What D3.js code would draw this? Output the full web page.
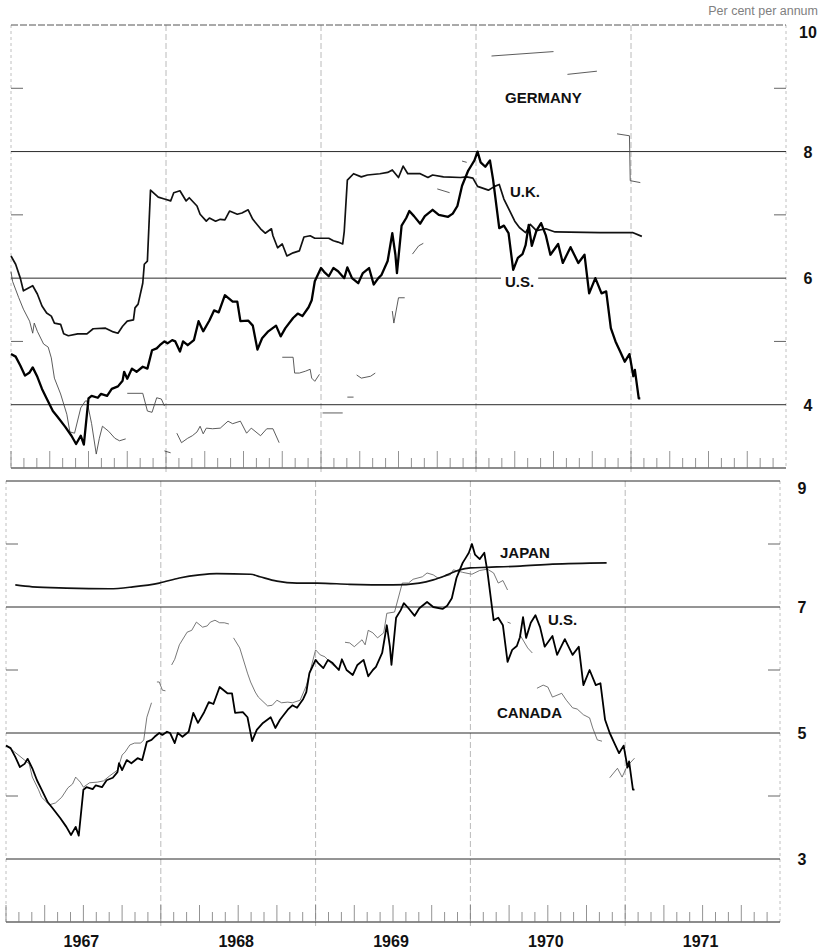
<!DOCTYPE html>
<html>
<head>
<meta charset="utf-8">
<script src="https://cdn.jsdelivr.net/npm/d3@7"></script>
<style>
  body { margin: 0; background: #fff; }
  svg { display: block; }
  text { font-family: "Liberation Sans", Arial, Helvetica, sans-serif; }
</style>
</head>
<body>
<svg id="chart" width="836" height="950"></svg>
<script>
// ---------------------------------------------------------------
// data: [decimal year, per cent per annum]; null = gap in the line
const years = [1967, 1968, 1969, 1970, 1971];

const usRate = [
  [1967.00, 4.80], [1967.03, 4.76], [1967.06, 4.62], [1967.09, 4.46], [1967.12, 4.51],
  [1967.14, 4.59], [1967.17, 4.44], [1967.20, 4.25], [1967.23, 4.10], [1967.27, 3.90],
  [1967.30, 3.81], [1967.35, 3.65], [1967.39, 3.51], [1967.42, 3.38], [1967.45, 3.51],
  [1967.47, 3.37], [1967.50, 4.10], [1967.52, 4.14], [1967.56, 4.11], [1967.58, 4.17],
  [1967.62, 4.14], [1967.65, 4.25], [1967.69, 4.29], [1967.72, 4.38], [1967.73, 4.52],
  [1967.75, 4.41], [1967.78, 4.57], [1967.81, 4.52], [1967.85, 4.60], [1967.88, 4.57],
  [1967.91, 4.86], [1967.94, 4.89], [1967.96, 4.94], [1967.99, 5.00], [1968.01, 4.97],
  [1968.04, 5.02], [1968.06, 5.00], [1968.09, 4.84], [1968.11, 5.00], [1968.14, 4.94],
  [1968.18, 5.02], [1968.21, 5.32], [1968.24, 5.16], [1968.28, 5.33], [1968.31, 5.49],
  [1968.34, 5.46], [1968.38, 5.73], [1968.43, 5.63], [1968.46, 5.63], [1968.48, 5.32],
  [1968.53, 5.33], [1968.56, 5.25], [1968.59, 4.87], [1968.62, 5.05], [1968.66, 5.16],
  [1968.71, 5.25], [1968.74, 5.08], [1968.77, 5.21], [1968.82, 5.37], [1968.85, 5.44],
  [1968.88, 5.40], [1968.92, 5.54], [1968.94, 5.65], [1968.96, 5.95], [1969.00, 6.16],
  [1969.02, 6.10], [1969.05, 6.03], [1969.08, 6.16], [1969.11, 6.11], [1969.15, 6.00],
  [1969.17, 6.17], [1969.20, 6.00], [1969.24, 5.92], [1969.27, 6.08], [1969.31, 6.16],
  [1969.34, 5.90], [1969.37, 6.00], [1969.39, 6.05], [1969.43, 6.27], [1969.46, 6.71],
  [1969.48, 6.37], [1969.49, 6.08], [1969.52, 6.83], [1969.55, 6.95], [1969.57, 7.06],
  [1969.60, 6.98], [1969.64, 6.86], [1969.67, 6.98], [1969.72, 7.08], [1969.76, 7.00],
  [1969.82, 6.97], [1969.85, 7.02], [1969.88, 7.14], [1969.91, 7.46], [1969.95, 7.70],
  [1969.97, 7.78], [1969.99, 7.86], [1970.01, 8.00], [1970.03, 7.83], [1970.06, 7.76],
  [1970.09, 7.86], [1970.11, 7.56], [1970.15, 6.79], [1970.18, 6.83], [1970.21, 6.71],
  [1970.24, 6.13], [1970.27, 6.32], [1970.30, 6.38], [1970.32, 6.52], [1970.34, 6.84],
  [1970.36, 6.51], [1970.39, 6.75], [1970.42, 6.87], [1970.45, 6.68], [1970.48, 6.37],
  [1970.53, 6.54], [1970.56, 6.24], [1970.61, 6.49], [1970.66, 6.24], [1970.70, 6.37],
  [1970.73, 5.76], [1970.77, 6.00], [1970.81, 5.76], [1970.84, 5.79], [1970.87, 5.21],
  [1970.90, 5.00], [1970.93, 4.84], [1970.96, 4.68], [1970.99, 4.80], [1971.015, 4.45],
  [1971.025, 4.55], [1971.05, 4.10], [1971.06, 4.10]
];

const ukRate = [
  [1967.00, 6.35], [1967.03, 6.22], [1967.06, 6.00], [1967.08, 5.80], [1967.11, 5.84],
  [1967.14, 5.88], [1967.17, 5.75], [1967.20, 5.56], [1967.23, 5.45], [1967.26, 5.40],
  [1967.28, 5.29], [1967.32, 5.27], [1967.34, 5.12], [1967.37, 5.09], [1967.43, 5.12],
  [1967.49, 5.12], [1967.53, 5.20], [1967.61, 5.21], [1967.66, 5.15], [1967.69, 5.13],
  [1967.72, 5.24], [1967.75, 5.32], [1967.79, 5.34], [1967.80, 5.53], [1967.82, 5.59],
  [1967.85, 5.92], [1967.86, 6.22], [1967.88, 6.27], [1967.90, 7.39], [1967.95, 7.28],
  [1967.99, 7.25], [1968.03, 7.22], [1968.05, 7.35], [1968.09, 7.38], [1968.13, 7.22],
  [1968.15, 7.27], [1968.20, 7.14], [1968.22, 7.01], [1968.26, 6.90], [1968.28, 6.95],
  [1968.32, 6.90], [1968.35, 6.93], [1968.38, 6.92], [1968.41, 7.06], [1968.46, 7.01],
  [1968.49, 7.03], [1968.53, 7.08], [1968.56, 6.93], [1968.61, 6.78], [1968.64, 6.71],
  [1968.68, 6.78], [1968.69, 6.67], [1968.72, 6.48], [1968.75, 6.54], [1968.78, 6.35],
  [1968.82, 6.40], [1968.86, 6.43], [1968.89, 6.65], [1968.93, 6.67], [1968.96, 6.63],
  [1969.01, 6.63], [1969.05, 6.63], [1969.08, 6.59], [1969.11, 6.57], [1969.14, 6.54],
  [1969.15, 6.74], [1969.17, 7.55], [1969.21, 7.65], [1969.26, 7.60], [1969.30, 7.63],
  [1969.38, 7.65], [1969.43, 7.67], [1969.46, 7.71], [1969.50, 7.59], [1969.53, 7.77],
  [1969.56, 7.65], [1969.64, 7.65], [1969.69, 7.59], [1969.72, 7.63], [1969.79, 7.60],
  [1969.90, 7.59], [1969.94, 7.60], [1969.98, 7.58], [1970.01, 7.45], [1970.08, 7.39],
  [1970.12, 7.45], [1970.15, 7.48], [1970.18, 7.25], [1970.22, 7.05], [1970.25, 6.90],
  [1970.28, 6.80], [1970.32, 6.72], [1970.35, 6.85], [1970.39, 6.75], [1970.45, 6.78],
  [1970.51, 6.73], [1970.80, 6.72], [1971.01, 6.72], [1971.07, 6.66]
];

const germanyRate = [
  [1967.00, 6.10], [1967.01, 5.95], [1967.05, 5.69], [1967.08, 5.51], [1967.12, 5.32],
  [1967.14, 5.13], [1967.15, 5.29], [1967.17, 5.16], [1967.21, 4.96], [1967.24, 4.91],
  [1967.26, 4.74], [1967.28, 4.42], [1967.32, 4.17], [1967.36, 3.85], [1967.38, 3.57],
  [1967.41, 3.55], [1967.45, 3.95], [1967.48, 4.06], [1967.49, 4.06], [1967.52, 3.70],
  [1967.55, 3.22], [1967.57, 3.47], [1967.59, 3.66], [1967.63, 3.58], [1967.67, 3.47],
  [1967.70, 3.43], [1967.74, 3.46], null,
  [1967.75, 4.18], [1967.85, 4.18], [1967.88, 3.90], [1967.91, 3.88], [1967.94, 4.11],
  [1967.97, 4.09], [1967.99, 3.98], null,
  [1967.99, 3.27], [1968.03, 3.24], null,
  [1968.07, 3.55], [1968.10, 3.40], [1968.14, 3.47], [1968.17, 3.51], [1968.20, 3.57],
  [1968.22, 3.66], [1968.24, 3.54], [1968.26, 3.63], [1968.30, 3.62], [1968.35, 3.63],
  [1968.40, 3.74], [1968.43, 3.70], [1968.48, 3.74], [1968.52, 3.55], [1968.55, 3.63],
  [1968.61, 3.51], [1968.65, 3.62], [1968.69, 3.62], [1968.73, 3.40], null,
  [1968.75, 4.75], [1968.82, 4.75], [1968.83, 4.50], [1968.86, 4.50], [1968.90, 4.53],
  [1968.93, 4.56], [1968.94, 4.42], [1968.96, 4.37], [1968.99, 4.48], null,
  [1969.01, 3.87], [1969.14, 3.87], null,
  [1969.17, 4.12], [1969.21, 4.12], null,
  [1969.23, 4.47], [1969.26, 4.42], [1969.32, 4.45], [1969.35, 4.50], null,
  [1969.46, 5.48], [1969.47, 5.29], [1969.50, 5.69], [1969.54, 5.69], null,
  [1969.59, 6.38], [1969.63, 6.51], [1969.66, 6.55], null,
  [1969.75, 7.41], [1969.83, 7.35], null,
  [1969.91, 7.85], [1969.94, 7.83], null,
  [1970.10, 9.51], [1970.50, 9.58], null,
  [1970.59, 9.22], [1970.78, 9.27], null,
  [1970.91, 8.28], [1970.99, 8.25], [1970.995, 7.54], [1971.06, 7.51]
];

const canadaRate = [
  [1967.00, 4.81], [1967.12, 4.57], [1967.15, 4.51], [1967.17, 4.30], [1967.21, 4.10],
  [1967.23, 3.98], [1967.28, 3.86], [1967.32, 3.89], [1967.36, 3.98], [1967.40, 4.13],
  [1967.43, 4.19], [1967.45, 4.30], [1967.48, 4.22], [1967.50, 4.14], [1967.54, 4.21],
  [1967.59, 4.22], [1967.63, 4.24], [1967.67, 4.32], [1967.72, 4.41], [1967.75, 4.65],
  [1967.77, 4.70], [1967.80, 4.81], [1967.83, 4.84], [1967.87, 4.84], [1967.89, 4.89],
  [1967.91, 5.25], [1967.94, 5.48], null,
  [1967.975, 5.81], [1967.99, 5.81], [1968.01, 5.68], [1968.03, 5.67], null,
  [1968.07, 6.08], [1968.09, 6.17], [1968.12, 6.40], [1968.17, 6.60], [1968.20, 6.63],
  [1968.23, 6.76], [1968.27, 6.68], [1968.30, 6.70], [1968.32, 6.76], [1968.35, 6.79],
  [1968.38, 6.75], [1968.41, 6.75], [1968.44, 6.73], null,
  [1968.47, 6.51], [1968.51, 6.35], [1968.56, 5.95], [1968.58, 5.81], [1968.61, 5.65],
  [1968.63, 5.57], [1968.69, 5.43], [1968.72, 5.44], [1968.75, 5.52], [1968.78, 5.48],
  [1968.82, 5.49], [1968.85, 5.48], [1968.90, 5.52], [1968.94, 5.75], [1969.00, 6.32],
  [1969.03, 6.24], [1969.06, 6.21], [1969.11, 6.08], [1969.14, 6.03], null,
  [1969.19, 6.44], [1969.22, 6.43], [1969.25, 6.37], [1969.30, 6.48], [1969.32, 6.40],
  [1969.34, 6.63], [1969.37, 6.59], [1969.40, 6.51], [1969.44, 6.59], [1969.46, 6.90],
  [1969.51, 6.92], [1969.56, 7.38], [1969.60, 7.38], [1969.63, 7.44], [1969.69, 7.48],
  [1969.72, 7.54], [1969.76, 7.51], [1969.79, 7.46], [1969.82, 7.48], [1969.87, 7.51],
  [1969.89, 7.59], [1969.95, 7.55], [1970.01, 7.52], [1970.06, 7.58], [1970.11, 7.60],
  [1970.15, 7.54], [1970.18, 7.38], [1970.21, 7.42], [1970.24, 7.27], null,
  [1970.24, 6.76], [1970.26, 6.74], null,
  [1970.32, 6.56], [1970.37, 6.35], [1970.40, 6.27], null,
  [1970.43, 5.71], [1970.47, 5.76], [1970.50, 5.73], [1970.53, 5.57], [1970.59, 5.63],
  [1970.62, 5.52], [1970.66, 5.40], [1970.69, 5.38], [1970.73, 5.29], [1970.77, 5.24],
  [1970.79, 5.08], [1970.82, 4.89], [1970.85, 4.87], null,
  [1970.90, 4.29], [1970.95, 4.44], [1970.98, 4.30], [1971.01, 4.46], [1971.03, 4.52],
  [1971.06, 4.60]
];

const japanRate = [
  [1967.06, 7.35], [1967.17, 7.32], [1967.39, 7.30], [1967.67, 7.29], [1967.82, 7.32],
  [1967.99, 7.38], [1968.12, 7.46], [1968.25, 7.51], [1968.36, 7.53], [1968.58, 7.52],
  [1968.64, 7.48], [1968.75, 7.41], [1968.88, 7.38], [1969.01, 7.38], [1969.22, 7.36],
  [1969.50, 7.35], [1969.67, 7.38], [1969.76, 7.43], [1969.85, 7.51], [1969.93, 7.59],
  [1970.00, 7.62], [1970.11, 7.63], [1970.32, 7.65], [1970.53, 7.68], [1970.88, 7.70]
];

const topMajor = [4, 6, 8, 10], topMinor = [5, 7, 9];
const bottomMajor = [3, 5, 7, 9], bottomMinor = [4, 6, 8];

// ---------------------------------------------------------------
const svg = d3.select("#chart");

const xTop = d3.scaleLinear().domain([1967, 1972]).range([11, 786]);
const yTop = d3.scaleLinear().domain([3, 10]).range([468, 25]);
const xBot = d3.scaleLinear().domain([1967, 1972]).range([6, 780]);
const yBot = d3.scaleLinear().domain([2, 9]).range([922, 481]);

function drawFrame(g, x, y, major, minor, topDashed) {
  const [x0, x1] = x.range();
  const [yb, yt] = y.range();

  // year boundaries, faint dotted
  g.selectAll(".year-line")
    .data(years.slice(1))
    .join("line")
    .attr("class", "year-line")
    .attr("x1", d => x(d)).attr("x2", d => x(d))
    .attr("y1", yt).attr("y2", yb + 4)
    .attr("stroke", "#a8a8a8").attr("stroke-width", 0.8)
    .attr("stroke-dasharray", "6,3");

  // left / right borders
  g.selectAll(".border")
    .data([x0, x1])
    .join("line")
    .attr("class", "border")
    .attr("x1", d => d).attr("x2", d => d)
    .attr("y1", yt).attr("y2", yb)
    .attr("stroke", "#b0b0b0").attr("stroke-width", 0.8)
    .attr("stroke-dasharray", "3,3");

  // horizontal grid at even values
  g.selectAll(".grid")
    .data(major)
    .join("line")
    .attr("class", "grid")
    .attr("x1", x0).attr("x2", x1)
    .attr("y1", d => y(d)).attr("y2", d => y(d))
    .attr("stroke", d => (topDashed && d === y.domain()[1]) ? "#555" : "#2a2a2a")
    .attr("stroke-width", 1)
    .attr("stroke-dasharray", d => (topDashed && d === y.domain()[1]) ? "7,2" : null);

  // bottom axis line
  g.append("line")
    .attr("x1", x0).attr("x2", x1)
    .attr("y1", yb).attr("y2", yb)
    .attr("stroke", "#1a1a1a").attr("stroke-width", 1.2);

  // short marks at odd values on both edges
  const minorMarks = [];
  minor.forEach(v => {
    minorMarks.push({ x1: x0, x2: x0 + 12, v });
    minorMarks.push({ x1: x1 - 12, x2: x1, v });
  });
  g.selectAll(".minor")
    .data(minorMarks)
    .join("line")
    .attr("class", "minor")
    .attr("x1", d => d.x1).attr("x2", d => d.x2)
    .attr("y1", d => y(d.v)).attr("y2", d => y(d.v))
    .attr("stroke", "#555").attr("stroke-width", 0.9);

  // monthly ticks up from the bottom axis, taller each quarter
  const months = d3.range(0, 60);
  g.selectAll(".mtick")
    .data(months)
    .join("line")
    .attr("class", "mtick")
    .attr("x1", d => x(1967 + d / 12)).attr("x2", d => x(1967 + d / 12))
    .attr("y1", yb).attr("y2", d => yb - (d % 3 === 0 ? 17 : 10))
    .attr("stroke", "#777").attr("stroke-width", 0.8);

  // value labels on the right
  g.selectAll(".vlabel")
    .data(major)
    .join("text")
    .attr("class", "vlabel")
    .attr("x", x1 + 22)
    .attr("y", d => y(d) + 6 + (d === y.domain()[1] ? 7 : 0))
    .attr("text-anchor", "middle")
    .attr("font-size", 16).attr("font-weight", "bold")
    .attr("fill", "#111")
    .text(d => d);
}

function drawSeries(g, x, y, data, width, colour, curve) {
  const line = d3.line()
    .defined(d => d != null)
    .x(d => x(d[0]))
    .y(d => y(d[1]))
    .curve(curve || d3.curveLinear);
  g.append("path")
    .datum(data)
    .attr("d", line)
    .attr("fill", "none")
    .attr("stroke", colour)
    .attr("stroke-width", width)
    .attr("stroke-linejoin", "round");
}

function label(g, txt, x, y, knockout) {
  const t = g.append("text")
    .attr("x", x).attr("y", y)
    .attr("font-size", 15).attr("font-weight", "bold")
    .attr("fill", "#111")
    .text(txt);
  if (knockout) {
    const b = t.node().getBBox();
    g.insert("rect", "text:last-child")
      .attr("x", b.x - 4).attr("y", b.y).attr("width", b.width + 8).attr("height", b.height)
      .attr("fill", "#fff");
  }
}

// ---------------- top panel: Germany, U.K., U.S.
const gTop = svg.append("g").attr("id", "top-panel");
drawFrame(gTop, xTop, yTop, topMajor, topMinor, true);
drawSeries(gTop, xTop, yTop, germanyRate, 0.9, "#4a4a4a");
drawSeries(gTop, xTop, yTop, ukRate, 1.7, "#111");
drawSeries(gTop, xTop, yTop, usRate, 2.3, "#000");
label(gTop, "GERMANY", 505, 103);
label(gTop, "U.K.", 510, 197);
label(gTop, "U.S.", 505, 287, true);

// ---------------- bottom panel: Japan, U.S., Canada
const gBot = svg.append("g").attr("id", "bottom-panel");
drawFrame(gBot, xBot, yBot, bottomMajor, bottomMinor, false);
drawSeries(gBot, xBot, yBot, canadaRate, 0.8, "#555");
drawSeries(gBot, xBot, yBot, japanRate, 1.7, "#111", d3.curveMonotoneX);
drawSeries(gBot, xBot, yBot, usRate, 1.8, "#000");
label(gBot, "JAPAN", 500, 558);
label(gBot, "U.S.", 548, 625);
label(gBot, "CANADA", 497, 718);

// year labels under the bottom panel
svg.selectAll(".year-label")
  .data(years)
  .join("text")
  .attr("class", "year-label")
  .attr("x", d => xBot(d + 0.5) - 2)
  .attr("y", 947)
  .attr("text-anchor", "middle")
  .attr("font-size", 16).attr("font-weight", "bold")
  .attr("fill", "#111")
  .text(d => d);

// unit note
svg.append("text")
  .attr("x", 818).attr("y", 15)
  .attr("text-anchor", "end")
  .attr("font-size", 12.5)
  .attr("fill", "#808080")
  .text("Per cent per annum");
</script>
</body>
</html>
